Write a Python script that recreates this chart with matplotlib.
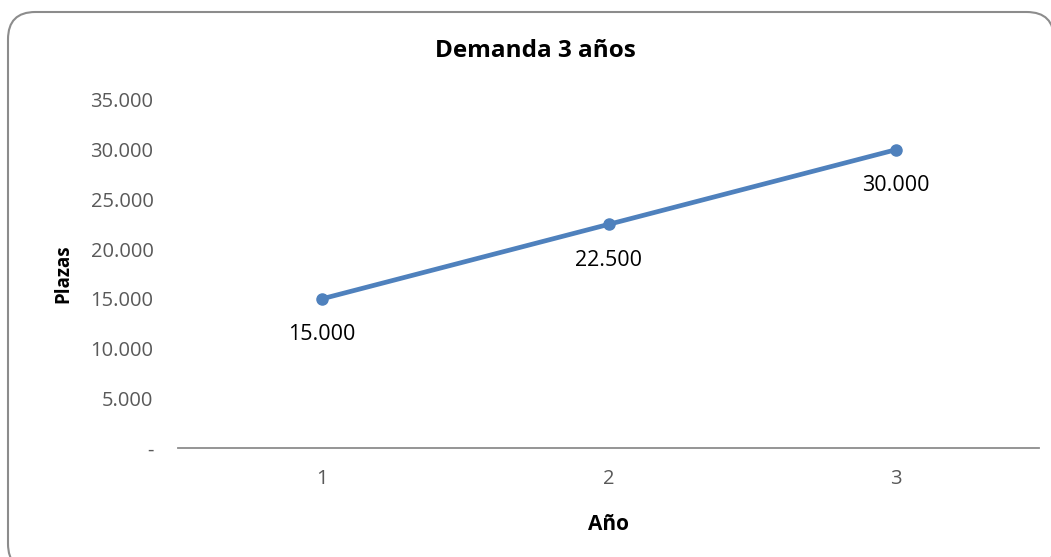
import matplotlib
matplotlib.use('Agg')
import matplotlib.pyplot as plt
from matplotlib.patches import FancyBboxPatch
from matplotlib.ticker import FuncFormatter

# demanda de plazas por año
anios = [1, 2, 3]
plazas = [15000, 22500, 30000]
yticks = [0, 5000, 10000, 15000, 20000, 25000, 30000, 35000]

plt.rcParams['font.family'] = ['Open Sans', 'DejaVu Sans']


def miles(v, pos=None):
    if v == 0:
        return '-'
    return '{:,.0f}'.format(v).replace(',', '.')


fig = plt.figure(figsize=(10.51, 5.57), dpi=100)

# marco redondeado del gráfico (se sale por la derecha y por abajo)
marco = FancyBboxPatch((8 / 1051, -14 / 557), 1046 / 1051, 559 / 557,
                       boxstyle='round,pad=0,rounding_size=0.026',
                       transform=fig.transFigure, facecolor='white',
                       edgecolor='#8c8c8c', linewidth=1.5,
                       mutation_aspect=1051 / 557, zorder=-10)
fig.patches.append(marco)

ax = fig.add_axes([0.1698, 0.1957, 0.8192, 0.6248])
ax.set_facecolor('none')

ax.plot(anios, plazas, color='#4F81BD', linewidth=3.4, marker='o',
        markersize=8, solid_capstyle='round')

for x, y in zip(anios, plazas):
    ax.annotate(miles(y), (x, y), xytext=(0, -26), textcoords='offset points',
                ha='center', va='center', fontsize=15.5, color='black')

ax.set_xlim(0.5, 3.5)
ax.set_ylim(0, 35000)
ax.set_xticks(anios)
ax.set_yticks(yticks)
ax.yaxis.set_major_formatter(FuncFormatter(miles))

for s in ['top', 'right', 'left']:
    ax.spines[s].set_visible(False)
ax.spines['bottom'].set_color('#8c8c8c')
ax.spines['bottom'].set_linewidth(1.3)
ax.tick_params(axis='both', length=0, labelsize=14.5, colors='#595959')
ax.tick_params(axis='y', pad=18)
ax.tick_params(axis='x', pad=15)

fig.text(535 / 1051, 1 - 51 / 557, 'Demanda 3 años', fontsize=17.5,
         fontweight='bold', ha='center', va='center')
ax.set_xlabel('Año', fontsize=15, fontweight='bold', labelpad=18)
ax.set_ylabel('Plazas', fontsize=13.5, fontweight='bold', labelpad=12)

fig.savefig('out.png', dpi=100)
